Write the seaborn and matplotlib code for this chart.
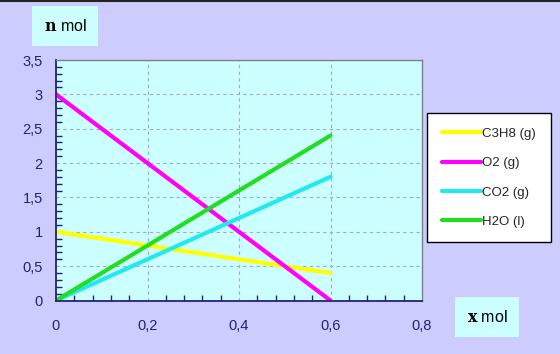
import pandas as pd
import matplotlib.pyplot as plt
import seaborn as sns
from matplotlib.ticker import MultipleLocator, FuncFormatter

# --- Data ---
x_mol = [0.0, 0.6]
species = ["C3H8 (g)", "O2 (g)", "CO2 (g)", "H2O (l)"]
n_c3h8 = [1.0, 0.4]
n_o2 = [3.0, 0.0]
n_co2 = [0.0, 1.8]
n_h2o = [0.0, 2.4]
colors = ["#FFFF00", "#FF00FF", "#22E8F0", "#22DD22"]

rows = []
for name, vals in zip(species, [n_c3h8, n_o2, n_co2, n_h2o]):
    for x, n in zip(x_mol, vals):
        rows.append({"x": x, "n": n, "species": name})
df = pd.DataFrame(rows)

# --- Style ---
sns.set_style("white")
plt.rcParams["font.family"] = ["Liberation Sans", "DejaVu Sans"]
plt.rcParams["mathtext.fontset"] = "dejavuserif"
navy = "#22227A"

fig = plt.figure(figsize=(5.6, 3.54), dpi=100, facecolor="#CCCCFF")
ax = fig.add_axes([56 / 560, 1 - 300.5 / 354, 366 / 560, 240.5 / 354])
ax.set_facecolor("#CCFFFF")

sns.lineplot(data=df, x="x", y="n", hue="species", palette=colors,
             linewidth=3.0, ax=ax, legend=True)

ax.set_xlim(0, 0.8)
ax.set_ylim(0, 3.5)
ax.xaxis.set_major_locator(MultipleLocator(0.2))
ax.xaxis.set_minor_locator(MultipleLocator(0.04))
ax.yaxis.set_major_locator(MultipleLocator(0.5))
ax.yaxis.set_minor_locator(MultipleLocator(0.1))
fmt = FuncFormatter(lambda v, p: ("%g" % round(v, 2)).replace(".", ","))
ax.xaxis.set_major_formatter(fmt)
ax.yaxis.set_major_formatter(fmt)

ax.grid(True, which="major", color="#9AAEC8", linestyle=(0, (3, 3)), linewidth=0.8)
ax.set_axisbelow(True)
ax.tick_params(which="major", direction="inout", length=7, width=1.2, color=navy,
               labelcolor=navy, labelsize=10.5, pad=6)
ax.tick_params(which="minor", direction="in", length=4, width=1, color=navy,
               bottom=True, left=True)
ax.tick_params(axis="x", pad=10)
for side in ["left", "bottom"]:
    ax.spines[side].set_color(navy)
    ax.spines[side].set_linewidth(1.3)
for side in ["top", "right"]:
    ax.spines[side].set_color("#808080")
    ax.spines[side].set_linewidth(1)
ax.set_xlabel("")
ax.set_ylabel("")

leg = ax.legend(loc="upper left", bbox_to_anchor=(427 / 560, 1 - 113 / 354),
                bbox_transform=fig.transFigure, frameon=True, fancybox=False,
                fontsize=9.5, handlelength=3.0, handletextpad=0.1,
                labelspacing=1.3, borderpad=1.1, borderaxespad=0)
leg.get_frame().set_edgecolor("black")
leg.get_frame().set_facecolor("white")
leg.get_frame().set_linewidth(1)
leg.get_frame().set_alpha(1)

box = dict(boxstyle="square,pad=0.75", facecolor="#CCFFFF", edgecolor="none")
fig.text(65 / 560, 1 - 26 / 354, r"$\mathbf{n}$ mol", fontsize=11.5,
         ha="center", va="center", bbox=box, color="black")
fig.text(487 / 560, 1 - 317 / 354, r"$\mathbf{x}$ mol", fontsize=11.5,
         ha="center", va="center", bbox=box, color="black")

fig.add_artist(plt.Line2D([0, 1], [0.997, 0.997], color="#222222",
                          linewidth=1.5, transform=fig.transFigure))

fig.savefig("out.png", dpi=100, facecolor=fig.get_facecolor())
